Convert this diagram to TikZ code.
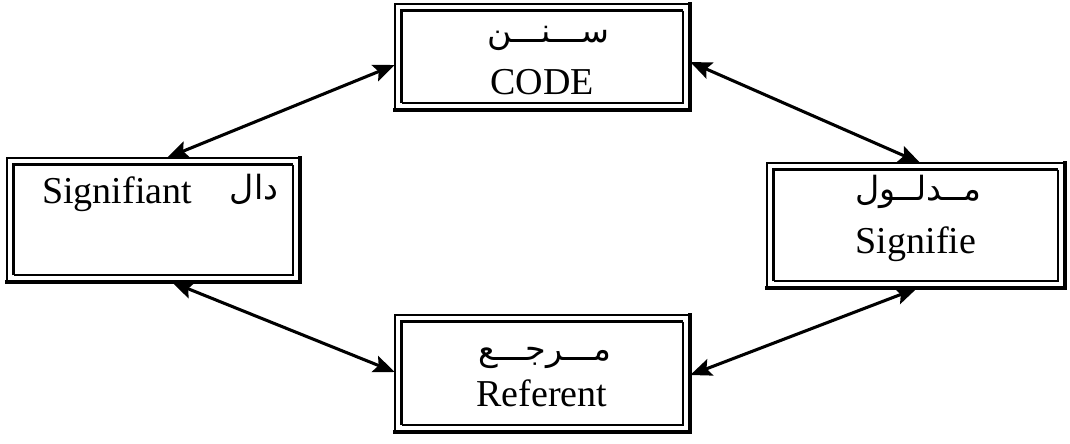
\documentclass[tikz,border=0pt]{standalone}
\usepackage{fontspec}
\setmainfont{Liberation Serif}
\newfontfamily\arabicfont[Script=Arabic]{DejaVu Sans}
\TeXXeTstate=1
\usetikzlibrary{arrows.meta,calc,fit}
\newcommand\dblborder[1]{%
  \draw[line width=1.3pt] (#1.south west) -- (#1.north west) -- (#1.north east);
  \draw[line width=3.2pt,line cap=rect] (#1.north east) -- (#1.south east) -- (#1.south west);
  \draw[line width=2pt] ($(#1.south west)+(7,-7)$) -- ($(#1.north west)+(7,7)$) -- ($(#1.north east)+(-7,7)$);
  \draw[line width=1.3pt] ($(#1.north east)+(-7,7)$) -- ($(#1.south east)+(-7,-7)$) -- ($(#1.south west)+(7,-7)$);
}
\begin{document}
\begin{tikzpicture}[x=0.75pt,y=-0.75pt,
  boxarea/.style={inner sep=0pt, draw=none},
  lat/.style={font=\fontsize{28.5}{30}\selectfont, inner sep=0pt, anchor=base},
  ara/.style={font=\arabicfont\fontsize{25}{28}\selectfont, inner sep=0pt, anchor=base},
  link/.style={line width=2.3pt, {Stealth[length=16pt,width=13pt,inset=3pt]}-{Stealth[length=16pt,width=13pt,inset=3pt]}},
]
\fill[white] (0,0) rectangle (1070,443);
\useasboundingbox (0,0) rectangle (1070,443);

\node[boxarea, fit={(395,4) (690,110)}] (code) {};
\node[boxarea, fit={(7,158) (300,282)}] (sa) {};
\node[boxarea, fit={(767,163) (1065,288)}] (se) {};
\node[boxarea, fit={(395,315) (690,432)}] (ref) {};
\dblborder{code}
\dblborder{sa}
\dblborder{se}
\dblborder{ref}

\node[ara] (codear) at (548,42) {\beginR ســـنـــن\endR};
\node[lat] (codeen) at (542,94) {CODE};
\node[lat, anchor=base west] (saen) at (42,203) {Signifiant};
\node[ara] (saar) at (254,199) {\beginR دال\endR};
\node[ara] (sear) at (918,200) {\beginR مــدلــول\endR};
\node[lat] (seen) at (916,253) {Signifie};
\node[ara] (refar) at (545,360) {\beginR مـــرجـــع\endR};
\node[lat] (refen) at (542,406) {Referent};

\coordinate (cl) at (code.west |- 0,65);
\coordinate (cr) at (code.east |- 0,62);
\coordinate (st) at (167,0 |- sa.north);
\coordinate (sb) at (172,0 |- sa.south);
\coordinate (et) at (920,0 |- se.north);
\coordinate (eb) at (917,0 |- se.south);
\coordinate (rl) at (ref.west |- 0,372);
\coordinate (rr) at (ref.east |- 0,375);

\draw[link] (cl) -- (st);
\draw[link] (cr) -- (et);
\draw[link] (sb) -- (rl);
\draw[link] (eb) -- (rr);
\end{tikzpicture}
\end{document}
